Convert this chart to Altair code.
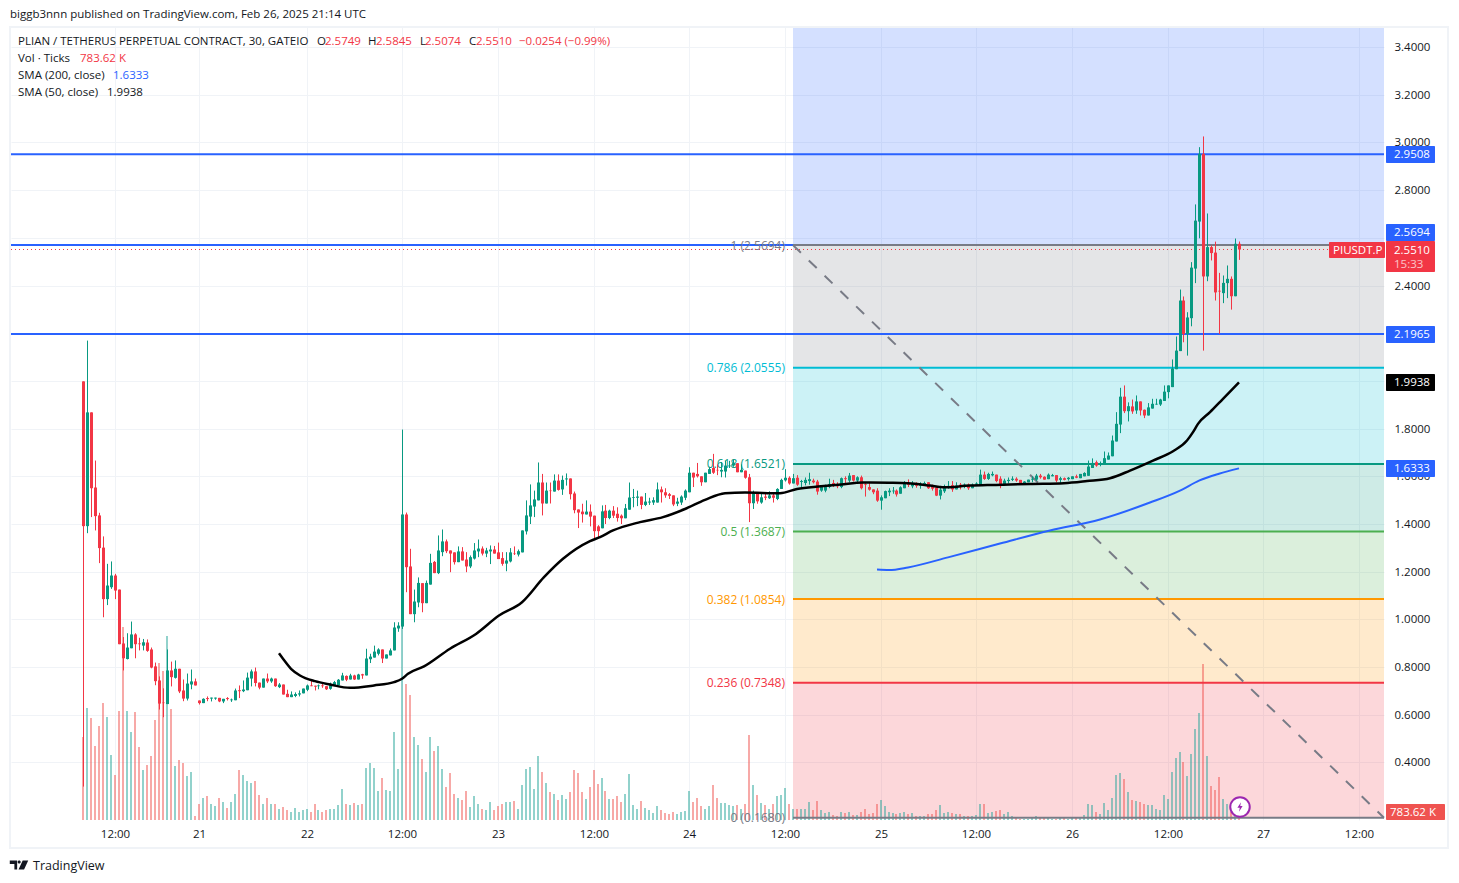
import altair as alt
import pandas as pd

FONT = "Open Sans"
FS = 11.5

opens = [
1.998,1.391,1.868,1.553,1.436,1.301,1.085,1.135,1.184,1.125,
.899,.834,.879,.937,.899,.890,.903,.874,.803,.744,
.651,.645,.786,.755,.793,.702,.668,.727,.740,.660,
.649,.670,.668,.668,.671,.656,.670,.661,.661,.703,
.699,.703,.752,.782,.735,.714,.752,.740,.752,.716,
.727,.688,.674,.679,.685,.690,.705,.723,.722,.720,
.723,.720,.709,.723,.723,.744,.763,.748,.765,.748,
.770,.765,.833,.840,.856,.874,.836,.849,.870,.962,
.970,1.440,1.222,1.022,1.071,1.152,1.068,1.146,1.241,1.194,
1.282,1.327,1.289,1.281,1.240,1.285,1.251,1.222,1.255,1.285,
1.297,1.276,1.285,1.293,1.281,1.257,1.234,1.243,1.276,1.272,
1.281,1.369,1.431,1.473,1.499,1.574,1.486,1.540,1.536,1.582,
1.545,1.587,1.591,1.528,1.461,1.452,1.440,1.452,1.435,1.390,
1.382,1.456,1.425,1.456,1.443,1.435,1.424,1.46,1.509,1.510,
1.515,1.48,1.49,1.49,1.49,1.545,1.533,1.525,1.52,1.485,
1.49,1.51,1.533,1.615,1.61,1.60,1.575,1.61,1.635,1.627,
1.62,1.62,1.642,1.645,1.655,1.617,1.624,1.596,1.487,1.529,
1.49,1.515,1.508,1.52,1.505,1.547,1.583,1.594,1.57,1.594,
1.576,1.572,1.58,1.582,1.578,1.54,1.54,1.555,1.572,1.566,
1.555,1.592,1.582,1.605,1.582,1.596,1.568,1.555,1.545,1.54,
1.498,1.508,1.533,1.537,1.54,1.527,1.55,1.572,1.558,1.571,
1.56,1.564,1.575,1.56,1.553,1.519,1.537,1.552,1.563,1.545,
1.565,1.562,1.565,1.55,1.565,1.564,1.607,1.589,1.604,1.607,
1.59,1.564,1.58,1.585,1.59,1.585,1.572,1.575,1.586,1.586,
1.603,1.598,1.588,1.60,1.605,1.585,1.592,1.588,1.588,1.60,
1.592,1.60,1.602,1.635,1.659,1.648,1.65,1.67,1.684,1.746,
1.817,1.934,1.873,1.893,1.876,1.914,1.879,1.855,1.884,1.901,
1.901,1.916,1.953,1.974,2.049,2.125,2.337,2.196,2.263,2.471,
2.668,2.952,2.438,2.561,2.538,2.378,2.368,2.41,2.428,2.355,2.5749]

highs = [
1.998,2.169,1.868,1.666,1.447,1.348,1.233,1.243,1.191,1.125,
.926,.942,.991,.942,.923,.918,.916,.882,.819,.761,
.711,.874,.823,.828,.793,.748,.773,.790,.752,.660,
.669,.677,.672,.672,.671,.667,.674,.668,.710,.723,
.744,.777,.790,.798,.735,.752,.773,.756,.752,.733,
.727,.705,.698,.694,.702,.710,.727,.744,.722,.727,
.730,.720,.735,.742,.750,.776,.765,.772,.768,.772,
.772,.877,.856,.890,.879,.874,.853,.878,.988,.988,
1.796,1.448,1.296,1.125,1.176,1.152,1.163,1.275,1.245,1.352,
1.377,1.335,1.289,1.281,1.306,1.303,1.282,1.268,1.320,1.335,
1.306,1.300,1.310,1.308,1.322,1.282,1.282,1.299,1.306,1.293,
1.373,1.499,1.566,1.540,1.658,1.610,1.574,1.574,1.608,1.608,
1.603,1.612,1.591,1.536,1.461,1.485,1.499,1.482,1.435,1.395,
1.478,1.48,1.46,1.475,1.47,1.44,1.484,1.574,1.547,1.54,
1.515,1.53,1.51,1.512,1.574,1.557,1.55,1.53,1.52,1.51,
1.52,1.545,1.638,1.615,1.656,1.60,1.615,1.64,1.694,1.65,
1.66,1.665,1.665,1.67,1.655,1.65,1.624,1.61,1.54,1.53,
1.53,1.53,1.537,1.533,1.55,1.59,1.63,1.60,1.61,1.605,
1.585,1.595,1.615,1.59,1.585,1.56,1.565,1.59,1.585,1.575,
1.595,1.60,1.614,1.605,1.60,1.603,1.575,1.575,1.545,1.55,
1.52,1.54,1.55,1.555,1.545,1.558,1.58,1.587,1.58,1.575,
1.575,1.578,1.575,1.565,1.557,1.56,1.565,1.58,1.58,1.575,
1.572,1.57,1.57,1.57,1.575,1.628,1.62,1.615,1.62,1.607,
1.60,1.59,1.595,1.60,1.596,1.585,1.58,1.586,1.60,1.61,
1.61,1.60,1.612,1.61,1.605,1.598,1.595,1.597,1.60,1.607,
1.61,1.617,1.666,1.675,1.666,1.662,1.704,1.70,1.771,1.869,
1.971,1.981,1.91,1.922,1.939,1.914,1.88,1.907,1.925,1.925,
1.925,1.981,1.981,2.09,2.186,2.383,2.354,2.288,2.498,2.74,
2.98,3.025,2.702,2.568,2.584,2.453,2.442,2.484,2.438,2.597,2.5845]

lows = [
.299,1.3615,1.429,1.373,1.236,1.009,1.060,1.128,1.085,.896,
.786,.832,.879,.837,.870,.870,.864,.795,.724,.622,
.590,.645,.719,.752,.691,.657,.660,.707,.723,.643,
.649,.657,.656,.663,.653,.649,.660,.654,.661,.670,
.695,.703,.719,.719,.707,.714,.733,.734,.717,.712,
.685,.674,.674,.674,.677,.690,.699,.720,.702,.707,
.713,.704,.705,.720,.723,.744,.741,.748,.746,.748,
.751,.765,.817,.840,.849,.817,.836,.849,.870,.948,
.960,1.114,1.022,.988,1.051,1.030,1.068,1.146,1.194,1.190,
1.265,1.278,1.198,1.230,1.240,1.247,1.198,1.215,1.251,1.261,
1.268,1.261,1.232,1.276,1.253,1.225,1.202,1.239,1.270,1.264,
1.281,1.356,1.40,1.429,1.499,1.436,1.486,1.486,1.536,1.540,
1.522,1.561,1.503,1.445,1.383,1.406,1.440,1.390,1.335,1.345,
1.382,1.40,1.42,1.425,1.41,1.40,1.424,1.46,1.47,1.475,
1.462,1.475,1.48,1.48,1.49,1.49,1.51,1.505,1.475,1.475,
1.48,1.50,1.533,1.555,1.595,1.56,1.575,1.61,1.61,1.605,
1.596,1.595,1.635,1.64,1.617,1.617,1.59,1.408,1.463,1.485,
1.485,1.50,1.505,1.49,1.50,1.547,1.578,1.565,1.57,1.56,
1.555,1.562,1.565,1.57,1.523,1.535,1.533,1.55,1.555,1.55,
1.55,1.572,1.575,1.578,1.568,1.545,1.515,1.54,1.525,1.493,
1.46,1.508,1.517,1.527,1.515,1.527,1.55,1.555,1.55,1.552,
1.548,1.56,1.547,1.54,1.517,1.503,1.53,1.548,1.535,1.545,
1.545,1.55,1.543,1.55,1.56,1.564,1.585,1.585,1.60,1.575,
1.55,1.56,1.57,1.58,1.577,1.57,1.568,1.575,1.575,1.58,
1.59,1.586,1.588,1.60,1.575,1.572,1.583,1.582,1.588,1.592,
1.592,1.60,1.602,1.635,1.64,1.642,1.65,1.67,1.684,1.746,
1.781,1.865,1.83,1.862,1.862,1.855,1.844,1.855,1.884,1.90,
1.895,1.916,1.927,1.974,2.049,2.125,2.162,2.106,2.229,2.41,
2.598,2.127,2.418,2.505,2.337,2.197,2.326,2.347,2.299,2.355,2.5074]

closes = [
1.391,1.868,1.550,1.433,1.299,1.085,1.142,1.184,1.121,.896,
.837,.882,.937,.896,.896,.904,.868,.798,.741,.647,
.649,.786,.758,.793,.698,.668,.731,.740,.723,.649,
.667,.666,.672,.672,.656,.667,.666,.664,.702,.699,
.706,.756,.782,.733,.714,.752,.740,.752,.720,.727,
.685,.674,.685,.687,.690,.710,.723,.720,.718,.723,
.720,.707,.730,.737,.747,.765,.747,.765,.748,.769,
.765,.836,.844,.865,.874,.836,.853,.870,.966,.974,
1.440,1.219,1.022,1.075,1.153,1.068,1.153,1.237,1.194,1.289,
1.327,1.286,1.276,1.240,1.285,1.247,1.222,1.261,1.289,1.297,
1.276,1.289,1.293,1.276,1.253,1.233,1.247,1.281,1.274,1.286,
1.373,1.436,1.478,1.503,1.574,1.486,1.540,1.538,1.582,1.543,
1.585,1.591,1.525,1.458,1.448,1.441,1.452,1.431,1.370,1.370,
1.453,1.425,1.456,1.435,1.425,1.424,1.466,1.511,1.512,1.515,
1.48,1.494,1.494,1.50,1.545,1.533,1.52,1.518,1.482,1.494,
1.515,1.54,1.615,1.595,1.60,1.575,1.615,1.63,1.615,1.625,
1.627,1.645,1.645,1.655,1.617,1.627,1.594,1.487,1.529,1.495,
1.512,1.51,1.52,1.51,1.547,1.585,1.594,1.57,1.592,1.565,
1.58,1.585,1.588,1.575,1.536,1.558,1.558,1.568,1.562,1.558,
1.592,1.588,1.603,1.582,1.596,1.55,1.565,1.544,1.533,1.498,
1.512,1.538,1.54,1.54,1.524,1.554,1.572,1.564,1.572,1.56,
1.568,1.572,1.55,1.548,1.519,1.544,1.554,1.56,1.545,1.561,
1.555,1.565,1.55,1.565,1.57,1.607,1.589,1.61,1.61,1.58,
1.564,1.582,1.585,1.59,1.582,1.572,1.578,1.586,1.59,1.603,
1.596,1.586,1.607,1.605,1.582,1.592,1.585,1.594,1.60,1.594,
1.61,1.614,1.641,1.656,1.645,1.655,1.676,1.687,1.75,1.82,
1.934,1.873,1.894,1.872,1.914,1.876,1.855,1.889,1.904,1.904,
1.922,1.955,1.981,2.052,2.127,2.337,2.196,2.266,2.475,2.672,
2.952,2.438,2.561,2.536,2.371,2.375,2.411,2.428,2.355,2.575,2.551]

volumes = [
8300,11200,10200,7400,9400,11700,10300,6500,4500,10900,
19300,10900,8800,10800,7300,5000,5500,6400,10000,15700,
14900,18400,11100,5400,6000,5700,4400,4800,400,1600,
2200,2400,1600,1400,2200,1800,1200,1800,2600,5000,
4500,3900,3700,3900,2500,1600,2200,1600,1600,1100,
1300,1000,800,1200,800,1000,1100,800,1600,1000,
800,1000,1100,1100,1500,3100,1600,1500,1700,1500,
1600,5200,5700,5200,2900,4200,3000,2900,8800,5100,
19500,13600,12500,8300,7500,6100,4800,8300,6900,7400,
5100,3300,4700,2600,2200,2000,2900,1300,2400,1600,
1100,1000,1800,1000,1400,1600,1800,1800,1900,1100,
3500,5100,5300,3100,6400,4800,3700,2800,2600,2000,
2500,2100,2800,5000,4700,2800,2100,3300,5000,3600,
4200,2900,2100,2100,2400,1800,2600,4600,1500,1100,
1900,1200,1000,700,1400,1000,700,600,800,600,
800,900,2900,1800,2200,1400,1100,1400,3500,2200,
1700,1700,1500,1400,1500,1100,1600,8500,3500,2500,
1700,1500,1100,1600,2400,2500,3200,1600,1100,1100,
1100,1100,1800,1000,1900,1000,700,800,500,400,
800,700,800,500,500,800,1100,600,700,1600,
2000,1400,800,700,600,700,800,600,700,400,
400,400,600,600,1000,1500,700,800,700,600,
600,400,400,400,500,1600,1600,700,800,900,
1000,600,800,400,300,100,100,100,300,400,
300,300,300,100,100,300,300,100,300,300,
300,500,1600,1500,800,600,1700,1000,2200,4500,
4700,4100,2800,2000,1900,1800,1600,1500,1500,1100,
1000,2500,2100,4800,6200,6800,5800,4400,6600,9100,
10700,15600,6400,3400,3000,4300,2100,1600,800,400,783.62]

sma50_bars = [49,50.2,52,54.4,58,62,67,73,78,80,81.5,85.5,92,98.6,104.4,110,115.5,120.4,127,
              129.6,133,139.6,145.5,151,156,161,166,174.8,179,185,190,195.7,202,207,212.4,215.7,
              222.4,229,237.5,246,251.7,257.5,262.6,268.4,273.4,276.8,278.5,279.7,282.6,286,290]
sma50_vals = [.858,.835,.793,.765,.741,.727,.713,.723,.737,.751,.772,.803,.877,.939,1.016,1.072,1.177,1.254,1.328,
              1.345,1.373,1.408,1.429,1.463,1.501,1.529,1.532,1.529,1.547,1.558,1.566,1.574,1.573,1.571,1.561,1.554,
              1.561,1.564,1.568,1.571,1.580,1.592,1.624,1.666,1.705,1.750,1.785,1.820,1.869,1.925,1.9938]
sma200_bars = [199,202,207,217,230,242.5,255,267.6,275,280,285,290]
sma200_vals = [1.209,1.207,1.218,1.260,1.318,1.373,1.419,1.490,1.540,1.582,1.611,1.6333]

tick_bars = [8,29,56,80,104,128,152,176,200,224,248,272,296,320]
tick_labels = ["12:00","21","22","12:00","23","12:00","24","12:00","25","12:00","26","12:00","27","12:00"]
price_ticks = [0.4,0.6,0.8,1.0,1.2,1.4,1.6,1.8,2.0,2.2,2.4,2.6,2.8,3.0,3.2,3.4]

fib_levels = [0.168,0.7348,1.0854,1.3687,1.6521,2.0555,2.5694]
fib_names = ["0 (0.1680)","0.236 (0.7348)","0.382 (1.0854)","0.5 (1.3687)","0.618 (1.6521)","0.786 (2.0555)","1 (2.5694)"]
fib_colors = ["#787b86","#f23645","#ff9800","#4caf50","#089981","#00bcd4","#787b86"]
hlines = [2.9508,2.5694,2.1965]

UP, DOWN = "#089981", "#f23645"
PX0, PY0 = 11, 27
W, H = 1373, 793
XMIN, XMAX = -18.14, 326.3
YMIN, YMAX = 0.1589, 3.4839
FIB_START = 178.05
VOL_TOP = 79300

xs = alt.Scale(domain=[XMIN, XMAX], nice=False, zero=False, round=True, padding=0)
ys = alt.Scale(domain=[YMIN, YMAX], nice=False, zero=False, padding=0)

n = len(closes)
candles = pd.DataFrame({
    "i": range(n), "o": opens, "h": highs, "l": lows, "c": closes, "v": volumes,
})
candles["col"] = [UP if c >= o else DOWN for o, c in zip(opens, closes)]
candles["volcol"] = ["#26a69a" if c >= o else "#ef5350" for o, c in zip(opens, closes)]

label_expr = "[" + ",".join(f"'{t}'" for t in tick_labels) + "][indexof([" + ",".join(map(str, tick_bars)) + "],datum.value)]"

def X(field, axis=None):
    return alt.X(field, scale=xs, axis=axis, title=None)
def Y(field, axis=None):
    return alt.Y(field, scale=ys, axis=axis, title=None)

one = pd.DataFrame({"a": [0]})

xaxis = alt.Axis(values=tick_bars, labelExpr=label_expr, grid=True, gridColor="#f0f3f7", gridWidth=1,
                 domain=False, ticks=False, labelPadding=8, labelFont=FONT, labelFontSize=FS,
                 labelColor="#131722", labelOverlap=False, labelFlush=False, labelAngle=0)
yaxis = alt.Axis(values=price_ticks, format=".4f", orient="right", grid=True, gridColor="#f0f3f7", gridWidth=1,
                 domain=False, ticks=False, labelPadding=10, labelFont=FONT, labelFontSize=FS,
                 labelColor="#131722", labelOverlap=False, labelFlush=False, labelOffset=0.5)
axes = alt.Chart(pd.DataFrame({"i": [XMIN, XMAX], "p": [YMIN, YMAX]})).mark_point(opacity=0).encode(
    x=X("i:Q", xaxis), y=Y("p:Q", yaxis))

lv = fib_levels
band_tops = lv[1:] + [YMAX]
band_colors = ["#f23645","#ff9800","#4caf50","#089981","#00bcd4","#787b86","#2962ff"]
bands_df = pd.DataFrame({"x0": FIB_START, "x1": XMAX, "y0": lv, "y1": band_tops, "col": band_colors})
bands = alt.Chart(bands_df).mark_rect(opacity=0.2).encode(
    x=X("x0:Q"), x2="x1:Q", y=Y("y0:Q"), y2="y1:Q", color=alt.Color("col:N", scale=None))

vol = alt.Chart(candles).mark_bar(size=2, opacity=0.5).encode(
    x=X("i:Q"),
    y=alt.Y("v:Q", scale=alt.Scale(domain=[0, VOL_TOP], nice=False, padding=0), axis=None, title=None),
    color=alt.Color("volcol:N", scale=None))

blue_df = pd.DataFrame({"x0": XMIN, "x1": XMAX, "p": hlines})
blue = alt.Chart(blue_df).mark_rule(color="#2962ff", strokeWidth=2).encode(x=X("x0:Q"), x2="x1:Q", y=Y("p:Q"))

fib_df = pd.DataFrame({"x0": FIB_START, "x1": XMAX, "p": fib_levels, "col": fib_colors, "name": fib_names})
fib_lines = alt.Chart(fib_df).mark_rule(strokeWidth=2).encode(
    x=X("x0:Q"), x2="x1:Q", y=Y("p:Q"), color=alt.Color("col:N", scale=None))
fib_text = alt.Chart(fib_df).mark_text(align="right", baseline="middle", font=FONT, fontSize=12, dx=-8, dy=0.5).encode(
    x=X("x0:Q"), y=Y("p:Q"), text="name:N", color=alt.Color("col:N", scale=None))

diag_df = pd.DataFrame({"x0": [FIB_START], "x1": [XMAX], "y0": [fib_levels[-1]], "y1": [fib_levels[0]]})
diag = alt.Chart(diag_df).mark_rule(color="#787b86", strokeWidth=2, strokeDash=[11, 11]).encode(
    x=X("x0:Q"), x2="x1:Q", y=Y("y0:Q"), y2="y1:Q")

last_df = pd.DataFrame({"x0": [XMIN], "x1": [XMAX], "p": [closes[-1]]})
last = alt.Chart(last_df).mark_rule(color=DOWN, strokeWidth=1, strokeDash=[1, 3]).encode(
    x=X("x0:Q"), x2="x1:Q", y=Y("p:Q"))

wicks = alt.Chart(candles).mark_rule(strokeWidth=1, xOffset=0.5).encode(
    x=X("i:Q"), y=Y("l:Q"), y2="h:Q", color=alt.Color("col:N", scale=None))
bodies = alt.Chart(candles).mark_bar(size=3, xOffset=0.5).encode(
    x=X("i:Q"), y=Y("o:Q"), y2="c:Q", color=alt.Color("col:N", scale=None))

s50 = alt.Chart(pd.DataFrame({"i": sma50_bars, "p": sma50_vals})).mark_line(
    color="#000000", strokeWidth=2.5, interpolate="monotone").encode(x=X("i:Q"), y=Y("p:Q"))
s200 = alt.Chart(pd.DataFrame({"i": sma200_bars, "p": sma200_vals})).mark_line(
    color="#2962ff", strokeWidth=2, interpolate="monotone").encode(x=X("i:Q"), y=Y("p:Q"))

def txt(s, px, py, color="#131722", size=FS, align="left", weight="normal", opacity=1):
    return alt.Chart(one).mark_text(text=s, align=align, baseline="middle", font=FONT, fontSize=size,
                                    color=color, fontWeight=weight, opacity=opacity).encode(
        x=alt.value(px - PX0), y=alt.value(py - PY0 + 1.2))

def box(x0, x1, y0, y1, color):
    return alt.Chart(one).mark_rect(color=color, cornerRadius=1).encode(
        x=alt.value(x0 - PX0), x2=alt.value(x1 - PX0), y=alt.value(y0 - PY0), y2=alt.value(y1 - PY0))

BLUE = "#2962ff"
annots = [
    txt("biggb3nnn published on TradingView.com, Feb 26, 2025 21:14 UTC", 10, 14),
    txt("PLIAN / TETHERUS PERPETUAL CONTRACT, 30, GATEIO", 18, 41),
    txt("O", 317, 41), txt("2.5749", 325, 41, DOWN),
    txt("H", 368, 41), txt("2.5845", 376, 41, DOWN),
    txt("L", 420, 41), txt("2.5074", 425, 41, DOWN),
    txt("C", 469, 41), txt("2.5510", 476, 41, DOWN),
    txt("−0.0254 (−0.99%)", 519, 41, DOWN),
    txt("Vol · Ticks", 18, 58), txt("783.62 K", 80, 58, DOWN),
    txt("SMA (200, close)", 18, 75), txt("1.6333", 113, 75, BLUE),
    txt("SMA (50, close)", 18, 92), txt("1.9938", 107, 92),
    box(1386, 1435, 146, 163, BLUE), txt("2.9508", 1394, 154, "#ffffff"),
    box(1386, 1435, 224, 241, BLUE), txt("2.5694", 1394, 232, "#ffffff"),
    box(1329, 1385, 242, 258, DOWN), txt("PIUSDT.P", 1333, 249.5, "#ffffff"),
    box(1386, 1435, 241, 272, DOWN), txt("2.5510", 1394, 249.5, "#ffffff"),
    txt("15:33", 1394, 263.5, "#ffffff", opacity=0.7),
    box(1386, 1435, 326, 343, BLUE), txt("2.1965", 1394, 334, "#ffffff"),
    box(1386, 1435, 374, 391, "#000000"), txt("1.9938", 1394, 382, "#ffffff"),
    box(1386, 1435, 460, 477, BLUE), txt("1.6333", 1394, 468, "#ffffff"),
    box(1386, 1445, 804, 820, "#ef5350"), txt("783.62 K", 1390, 812, "#ffffff"),
    txt("TradingView", 33, 865, "#131722", size=12.5),
]

frame = alt.Chart(one).mark_rect(fillOpacity=0, stroke="#f0f3f7", strokeWidth=2).encode(
    x=alt.value(-1), x2=alt.value(1437), y=alt.value(0), y2=alt.value(821))

icon_ring = alt.Chart(one).mark_point(shape="circle", size=380, filled=True, fill="#ffffff", stroke="#9c27b0",
                                      strokeWidth=2, opacity=1).encode(x=alt.value(1240 - PX0), y=alt.value(807 - PY0))
icon_bolt = alt.Chart(one).mark_point(shape="M0.2,-1L-0.55,0.15L-0.05,0.15L-0.2,1L0.55,-0.2L0.05,-0.2Z", size=90,
                                      filled=True, fill="#9c27b0", strokeWidth=0, opacity=1).encode(
    x=alt.value(1240 - PX0), y=alt.value(807 - PY0))
logo = alt.Chart(one).mark_point(
    shape="M-1,-0.5L-0.2,-0.5L-0.2,0.5L-0.5,0.5L-0.5,-0.12L-1,-0.12ZM0.4,-0.5L1,-0.5L0.55,0.5L-0.05,0.5ZM0.02,-0.5A0.17,0.17,0,1,1,0.02,-0.16A0.17,0.17,0,1,1,0.02,-0.5Z",
    size=340, filled=True, fill="#131722", strokeWidth=0, opacity=1).encode(
    x=alt.value(19 - PX0), y=alt.value(865 - PY0))

chart = alt.layer(
    axes, bands, vol, blue, fib_lines, fib_text, last, diag, wicks, bodies, s200, s50,
    frame, icon_ring, icon_bolt, logo, *annots
).resolve_scale(y="independent").resolve_axis(x="independent").properties(
    width=W, height=H,
    padding={"left": 3, "top": 19, "right": 67, "bottom": 55},
    autosize=alt.AutoSizeParams(type="none"),
).configure_view(stroke=None)

chart.save("out.html", embed_options={"renderer": "svg", "actions": False})
